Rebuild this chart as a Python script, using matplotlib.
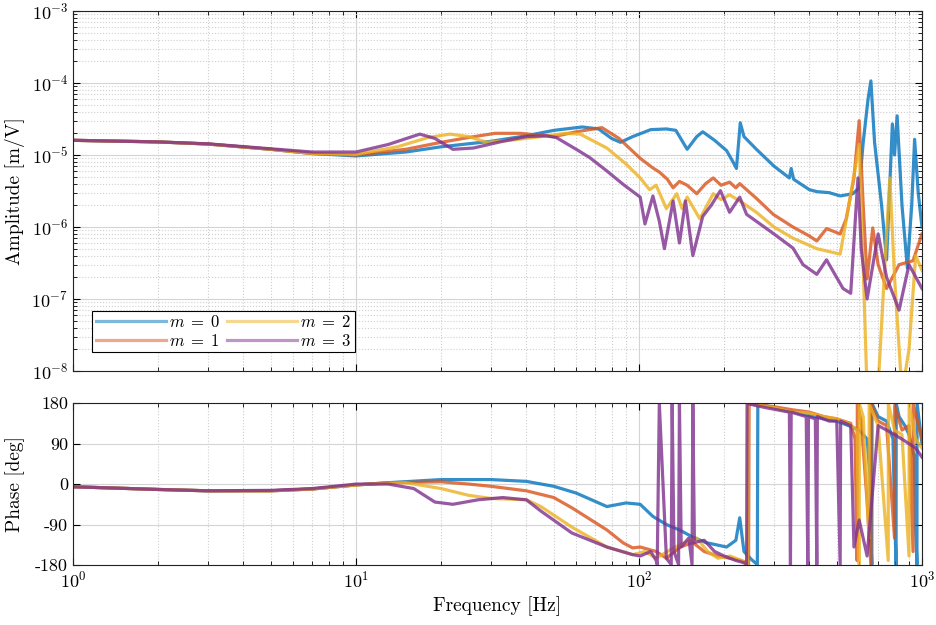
import numpy as np
import matplotlib
matplotlib.use("Agg")
import matplotlib.pyplot as plt
from matplotlib.ticker import LogLocator, FixedLocator, FixedFormatter, NullFormatter

plt.rcParams["font.family"] = "serif"
plt.rcParams["font.serif"] = ["cmr10", "DejaVu Serif"]
plt.rcParams["mathtext.fontset"] = "cm"
plt.rcParams["axes.formatter.use_mathtext"] = True
plt.rcParams["axes.unicode_minus"] = False

# Colors (MATLAB default order)
colors = ["#0072BD", "#D95319", "#EDB120", "#7E2F8E"]
labels = ["$m\\;=\\;0$", "$m\\;=\\;1$", "$m\\;=\\;2$", "$m\\;=\\;3$"]

# Amplitude [m/V]
f_amp_0 = [1, 2, 3, 5, 7, 10, 15, 20, 30, 40, 50, 63, 72, 80, 86, 95, 110, 125, 135, 148,
           160, 168, 185, 204, 215, 221, 228, 235, 260, 300, 340, 345, 352, 400, 425, 470,
           514, 570, 600, 620, 645, 660, 680, 720, 750, 786, 800, 817, 850, 888, 920, 942,
           970, 1000]
amp_0 = [1.6e-5, 1.52e-5, 1.42e-5, 1.2e-5, 1.05e-5, 0.97e-5, 1.1e-5, 1.3e-5, 1.55e-5, 1.85e-5,
         2.2e-5, 2.45e-5, 2.3e-5, 1.7e-5, 1.5e-5, 1.8e-5, 2.25e-5, 2.3e-5, 2.2e-5, 1.2e-5,
         1.8e-5, 2.1e-5, 1.6e-5, 1.15e-5, 8e-6, 6.5e-6, 2.8e-5, 1.8e-5, 1.2e-5, 7e-6,
         4.8e-6, 6.5e-6, 4.6e-6, 3.3e-6, 3.1e-6, 3.0e-6, 2.7e-6, 2.9e-6, 3.5e-6, 1.5e-5,
         6e-5, 1.07e-4, 1.5e-5, 2e-6, 3.5e-7, 2.7e-5, 1.0e-5, 3.5e-5, 2e-6, 2.7e-7, 2e-6,
         1.65e-5, 3e-6, 1.0e-6]

f_amp_1 = [1, 2, 3, 5, 7, 10, 15, 20, 25, 31, 38, 50, 60, 74, 85, 101, 112, 118, 126, 132,
           139, 148, 160, 172, 183, 195, 209, 220, 227, 260, 298, 350, 400, 425, 460, 514,
           540, 575, 600, 620, 640, 670, 700, 750, 830, 930, 1000]
amp_1 = [1.6e-5, 1.52e-5, 1.42e-5, 1.2e-5, 1.05e-5, 1.0e-5, 1.2e-5, 1.5e-5, 1.75e-5, 2.0e-5,
         2.0e-5, 1.8e-5, 2.1e-5, 2.4e-5, 1.7e-5, 9e-6, 6.6e-6, 5.8e-6, 4.6e-6, 3.5e-6,
         4.3e-6, 3.8e-6, 2.9e-6, 4.0e-6, 4.8e-6, 3.8e-6, 4.2e-6, 3.5e-6, 4.0e-6, 2.5e-6,
         1.5e-6, 1.0e-6, 7.5e-7, 6.4e-7, 9.5e-7, 8e-7, 1.3e-6, 4.8e-6, 3e-5, 2e-6, 1.9e-7,
         9.7e-7, 3e-7, 1.4e-7, 3e-7, 3.4e-7, 8e-7]

f_amp_2 = [1, 2, 3, 5, 7, 10, 14, 18, 21.5, 25, 29, 35, 45, 55, 62, 77, 90, 101, 109, 115,
           125, 136, 142, 148, 164, 183, 195, 209, 227, 260, 300, 350, 425, 514, 555, 600,
           625, 640, 700, 750, 770, 800, 850, 900, 950, 1000]
amp_2 = [1.6e-5, 1.52e-5, 1.42e-5, 1.2e-5, 1.05e-5, 1.02e-5, 1.3e-5, 1.75e-5, 1.95e-5, 1.8e-5,
         1.5e-5, 1.6e-5, 1.8e-5, 2.0e-5, 1.95e-5, 1.25e-5, 7.5e-6, 4.8e-6, 3.3e-6, 3.8e-6,
         1.8e-6, 2.9e-6, 1.8e-6, 2.6e-6, 1.3e-6, 2.9e-6, 2.4e-6, 2.8e-6, 2.3e-6, 1.6e-6,
         1.0e-6, 7e-7, 5e-7, 4.2e-7, 2.3e-6, 1.4e-5, 1e-7, 5e-9, 6e-9, 8e-7, 4.8e-6, 2e-7,
         5e-9, 2e-8, 4e-7, 2.5e-7]

f_amp_3 = [1, 2, 3, 5, 7, 10, 13, 16.8, 19, 22, 26, 33, 40, 47, 51, 60, 67, 77, 88, 101,
           105, 112, 118, 123, 132, 139, 146, 155, 168, 180, 194, 209, 227, 240, 268, 300,
           350, 380, 425, 460, 526, 560, 594, 610, 640, 700, 750, 830, 900, 1000]
amp_3 = [1.6e-5, 1.52e-5, 1.43e-5, 1.22e-5, 1.1e-5, 1.1e-5, 1.4e-5, 1.95e-5, 1.7e-5, 1.2e-5,
         1.25e-5, 1.55e-5, 1.8e-5, 1.85e-5, 1.75e-5, 1.2e-5, 9.2e-6, 6e-6, 3.9e-6, 2.6e-6,
         1.1e-6, 2.7e-6, 1.2e-6, 5e-7, 2.3e-6, 6e-7, 2.3e-6, 4e-7, 1.4e-6, 2e-6, 3.2e-6,
         1.6e-6, 2.6e-6, 1.5e-6, 1.1e-6, 8e-7, 5.1e-7, 3e-7, 2.2e-7, 3.5e-7, 1.4e-7, 1.2e-7,
         4.8e-6, 5e-7, 1e-7, 8e-7, 2e-7, 7e-8, 3e-7, 1.4e-7]

# Phase [deg] (wrapped to +-180)
f_ph_0 = [1, 2, 3, 5, 7, 10, 13, 20, 30, 40, 50, 60, 77, 90, 101, 112, 125, 139, 155, 172,
          204, 220, 227, 235, 250, 262, 263, 290, 350, 400, 450, 500, 550, 600, 640, 655,
          660, 665, 666, 700, 750, 790, 800, 810, 811, 830, 870, 900, 940, 950, 960, 961,
          1000]
ph_0 = [-6, -12, -15, -15, -11, -2, 3, 10, 10, 6, -5, -20, -50, -42, -45, -72, -90, -102,
        -118, -130, -140, -125, -75, -150, -168, -179, 179, 172, 160, 152, 145, 140, 130,
        120, 100, 20, -120, -179, 179, 150, 140, 100, -60, -179, 179, 150, 130, 110, 60,
        -100, -179, 179, 90]

f_ph_1 = [1, 2, 3, 5, 7, 10, 13, 20, 25, 30, 40, 50, 58, 77, 88, 95, 101, 115, 125, 140,
          155, 170, 190, 210, 230, 240, 244, 245, 300, 350, 400, 450, 500, 560, 580, 590,
          591, 610, 640, 660, 661, 700, 750, 800, 801, 850, 900, 930, 931, 1000]
ph_1 = [-6, -12, -15, -15, -11, -2, 3, 5, 0, -5, -15, -30, -53, -102, -131, -142, -140,
        -150, -165, -140, -130, -150, -160, -165, -170, -175, -179, 179, 172, 165, 160, 150,
        145, 135, 100, -170, 178, 140, -40, -179, 179, 140, 130, -120, 175, 120, 130, -150,
        178, 100]

f_ph_2 = [1, 2, 3, 5, 7, 10, 13, 15, 20, 25, 30, 40, 45, 58, 77, 95, 105, 115, 130, 145,
          160, 175, 190, 210, 230, 242, 243, 300, 350, 400, 450, 500, 550, 590, 600, 601,
          620, 650, 651, 700, 760, 761, 800, 850, 900, 901, 950, 1000]
ph_2 = [-6, -12, -15, -15, -11, -2, 2, 3, -10, -25, -32, -35, -50, -96, -140, -157, -150,
        -165, -145, -130, -120, -150, -165, -160, -170, -179, 179, 170, 160, 158, 150, 145,
        135, 120, -178, 178, 150, -120, 178, 130, -170, 178, 120, 110, -160, 178, 100, 80]

f_ph_3 = [1, 2, 3, 5, 7, 10, 13, 16, 19, 22, 27, 33, 40, 45, 58, 77, 95, 101, 110, 115,
          116, 118, 125, 130, 131, 133, 138, 139, 141, 150, 154, 155, 157, 170, 185, 200,
          220, 235, 240, 241, 280, 340, 343, 345, 390, 395, 397, 420, 425, 427, 470, 500,
          514, 516, 560, 575, 600, 640, 700, 750, 850, 950, 1000]
ph_3 = [-6, -12, -15, -14, -10, 0, 0, -10, -40, -45, -35, -30, -35, -60, -109, -140, -157,
        -160, -150, -170, -179, 179, -165, -179, 179, -150, -179, 179, -140, -120, -179, 179,
        -130, -125, -150, -160, -170, -175, -179, 179, 170, 160, -179, 160, 150, -179, 150,
        145, -179, 150, 140, 140, -179, 140, 130, -140, -80, -160, 130, 120, 100, 80, 60]

f_amps = [f_amp_0, f_amp_1, f_amp_2, f_amp_3]
amps = [amp_0, amp_1, amp_2, amp_3]
f_phs = [f_ph_0, f_ph_1, f_ph_2, f_ph_3]
phs = [ph_0, ph_1, ph_2, ph_3]

fig = plt.figure(figsize=(9.36, 6.25), dpi=100)
ax1 = fig.add_axes([0.078, 0.4064, 0.907, 0.576])
ax2 = fig.add_axes([0.078, 0.096, 0.907, 0.259], sharex=ax1)

for i in range(4):
    ax1.plot(f_amps[i], amps[i], color=colors[i], lw=2.3, alpha=0.8)
    ax2.plot(f_phs[i], phs[i], color=colors[i], lw=2.3, alpha=0.8)

# Legend with lighter lines
handles = [plt.Line2D([], [], color=c, lw=2.3, alpha=0.5) for c in colors]
leg = ax1.legend(handles, labels, loc="lower left", ncol=2, fontsize=12,
                 frameon=True, fancybox=False, edgecolor="black", framealpha=1,
                 handlelength=4.2, handletextpad=0.2, columnspacing=0.4,
                 labelspacing=0.15, borderpad=0.2, borderaxespad=1.15)
leg.get_frame().set_linewidth(0.8)

ax1.set_xscale("log")
ax1.set_yscale("log")
ax1.set_xlim(1, 1000)
ax1.set_ylim(1e-8, 1e-3)
ax1.yaxis.set_major_locator(LogLocator(base=10, numticks=10))
ax1.yaxis.set_minor_locator(LogLocator(base=10, subs=np.arange(2, 10), numticks=20))
ax1.yaxis.set_minor_formatter(NullFormatter())
ax1.set_ylabel("Amplitude [m/V]", fontsize=14)
ax1.tick_params(labelbottom=False)

ax2.set_ylim(-180, 180)
ax2.yaxis.set_major_locator(FixedLocator([-180, -90, 0, 90, 180]))
ax2.yaxis.set_major_formatter(FixedFormatter(["-180", "-90", "0", "90", "180"]))
ax2.set_ylabel("Phase [deg]", fontsize=14)
ax2.set_xlabel("Frequency [Hz]", fontsize=14)
ax2.xaxis.set_major_locator(LogLocator(base=10, numticks=10))
ax2.xaxis.set_minor_locator(LogLocator(base=10, subs=np.arange(2, 10), numticks=20))
ax2.xaxis.set_minor_formatter(NullFormatter())

for ax in (ax1, ax2):
    ax.tick_params(which="both", direction="in", top=True, right=True, labelsize=13)
    ax.tick_params(which="major", length=5, width=0.8)
    ax.tick_params(which="minor", length=3, width=0.6)
    ax.grid(True, which="major", color="#d4d4d4", lw=0.8, ls="-")
    ax.set_axisbelow(True)
    for s in ax.spines.values():
        s.set_linewidth(0.8)
        s.set_color("#222222")

ax1.grid(True, which="minor", color="#cfcfcf", lw=0.8, ls=":")
ax2.grid(True, which="minor", axis="x", color="#cfcfcf", lw=0.8, ls=":")

ax1.yaxis.set_label_coords(-0.056, 0.5)
ax2.yaxis.set_label_coords(-0.056, 0.5)

fig.savefig("out.png", dpi=100)
